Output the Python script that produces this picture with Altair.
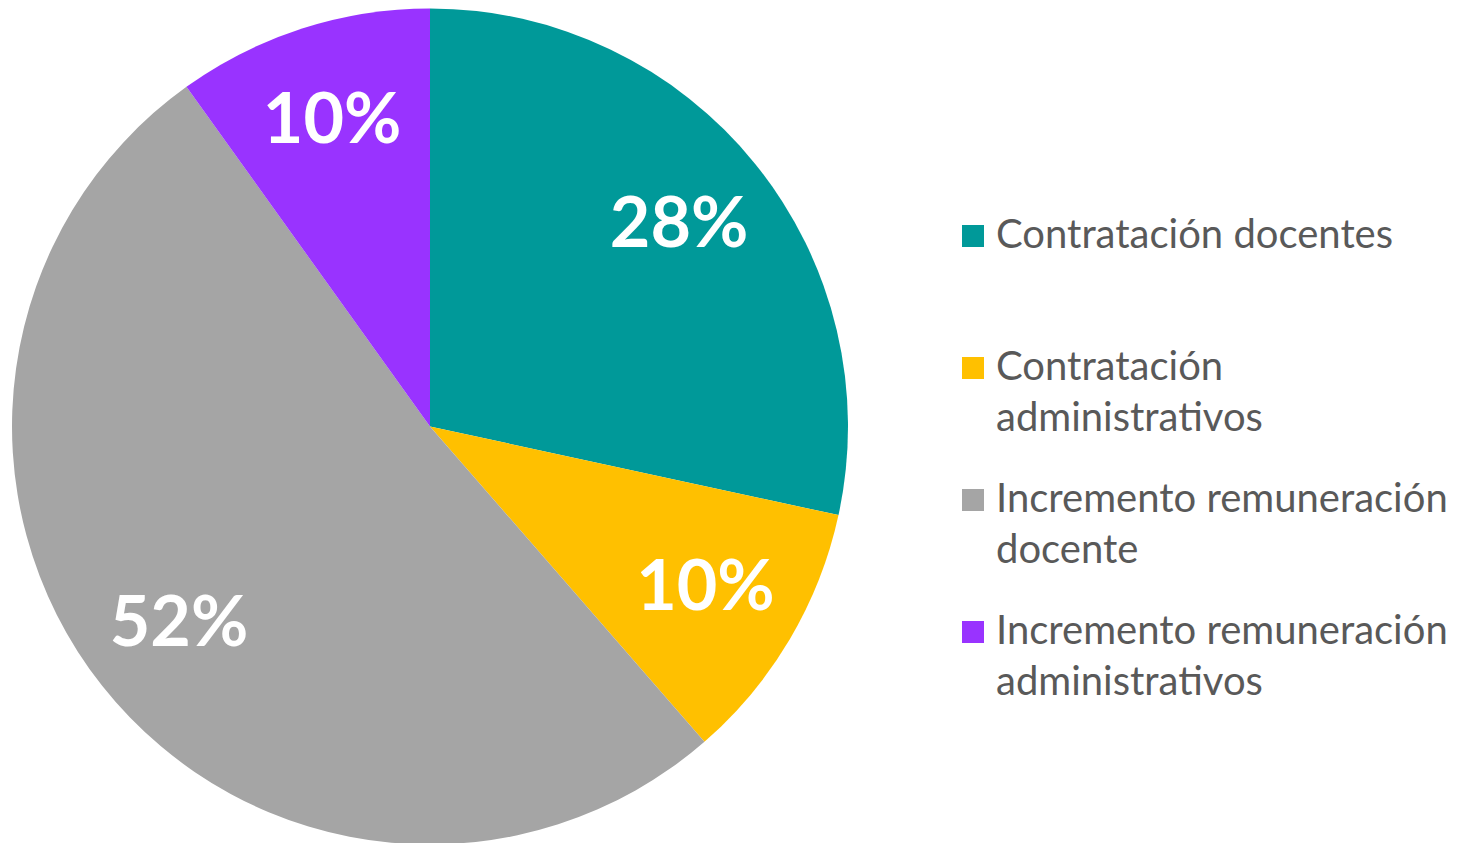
import altair as alt
import pandas as pd

categories = [
    "Contratación docentes",
    "Contratación administrativos",
    "Incremento remuneración docente",
    "Incremento remuneración administrativos",
]
values = [28.4, 10.2, 51.5, 9.9]
pct_labels = ["28%", "10%", "52%", "10%"]
legend_lines = [
    ["Contratación docentes", ""],
    ["Contratación", "administrativos"],
    ["Incremento remuneración", "docente"],
    ["Incremento remuneración", "administrativos"],
]
colors = ["#009999", "#FFC000", "#A5A5A5", "#9933FF"]

df = pd.DataFrame({
    "cat": categories,
    "val": values,
    "lab": pct_labels,
    "idx": list(range(len(categories))),
})

# label expression for wrapped legend labels
parts = []
for c, lines in zip(categories, legend_lines):
    arr = "[" + ",".join("'" + l + "'" for l in lines) + "]"
    parts.append(f"datum.label == '{c}' ? {arr} : ")
label_expr = "".join(parts) + "datum.label"

base = alt.Chart(df).encode(
    theta=alt.Theta("val:Q", stack=True),
    order=alt.Order("idx:Q"),
)

pie = base.mark_arc(outerRadius=418, strokeWidth=0).encode(
    color=alt.Color(
        "cat:N",
        scale=alt.Scale(domain=categories, range=colors),
        legend=alt.Legend(
            title=None,
            orient="none",
            legendX=945,
            legendY=207,
            symbolType="square",
            symbolSize=484,
            symbolStrokeWidth=0,
            labelFont="Lato",
            labelFontSize=40,
            labelColor="#595959",
            labelLimit=0,
            labelExpr=label_expr,
            rowPadding=41,
            symbolOffset=0,
            labelOffset=3,
        ),
    ),
)
text = base.mark_text(
    radius=320, font="Lato", fontSize=70, fontWeight="bold"
).encode(text="lab:N", color=alt.value("white"))

chart = (pie + text).properties(
    width=844, height=835, padding=0
).configure_view(stroke=None).configure(
    style={"guide-label": {"lineHeight": 51}}
)

chart.save("out.html", embed_options={"renderer": "svg", "actions": False})
